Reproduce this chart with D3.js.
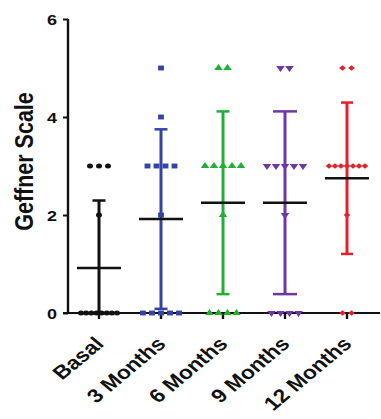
<!DOCTYPE html>
<html>
<head>
<meta charset="utf-8">
<script src="https://cdn.jsdelivr.net/npm/d3@7"></script>
<style>
  html, body { margin: 0; padding: 0; background: #ffffff; }
  svg { display: block; }
  text { font-family: "Liberation Sans", Arial, sans-serif; font-weight: bold; fill: #111; }
</style>
</head>
<body>
<svg id="chart" width="381" height="419"></svg>
<script>
// Geffner scale scores per patient at each visit
const categories = ["Basal", "3 Months", "6 Months", "9 Months", "12 Months"];
const basal    = [3, 3, 3, 2, 0, 0, 0, 0, 0, 0, 0, 0];
const months3  = [5, 4, 3, 3, 3, 3, 2, 0, 0, 0, 0, 0];
const months6  = [5, 5, 3, 3, 3, 3, 3, 2, 0, 0, 0, 0];
const months9  = [5, 5, 3, 3, 3, 3, 3, 2, 0, 0, 0, 0];
const months12 = [5, 5, 3, 3, 3, 3, 3, 3, 3, 2, 0, 0];
const yTicks = [0, 2, 4, 6];

const groups = [basal, months3, months6, months9, months12];
const colors = ["#111111", "#3343a8", "#22b034", "#6f36a6", "#e8202a"];
const shapes = [d3.symbolCircle, d3.symbolSquare, d3.symbolTriangle, d3.symbolTriangle, d3.symbolDiamond2];
const sizes  = [20, 24, 22, 22, 20];
const rotations = [0, 0, 0, 180, 0];
const capWidths = [13, 13, 13, 24, 12];

// the figure is drawn with a slightly wide aspect: text and symbols are widened by this factor
const stretch = 1.2;

const svg = d3.select("#chart");
const margin = { left: 68, top: 19, right: 3, bottom: 106 };
const W = 381, H = 419;

const x = d3.scaleBand().domain(categories).range([margin.left, W - margin.right]).padding(0);
const y = d3.scaleLinear().domain([0, 6]).range([H - margin.bottom, margin.top]);

// spread points sharing a value side by side around the column centre
function spread(values, step, maxSpan) {
  const counts = d3.rollup(values, v => v.length, d => d);
  const seen = new Map();
  return values.map(v => {
    const k = counts.get(v);
    const i = seen.get(v) || 0;
    seen.set(v, i + 1);
    const s = k > 1 ? Math.min(step, maxSpan / (k - 1)) : 0;
    return { value: v, dx: (i - (k - 1) / 2) * s };
  });
}

// axes
const yAxis = svg.append("g").attr("transform", `translate(${margin.left},0)`)
  .call(d3.axisLeft(y).tickValues(yTicks).tickFormat(d3.format("d")).tickSize(5));
yAxis.select(".domain").attr("stroke", "#111").attr("stroke-width", 2.4)
  .attr("d", `M0,${y(6)}V${y(0)}`);
yAxis.selectAll(".tick line").attr("stroke", "#111").attr("stroke-width", 2);
yAxis.selectAll(".tick text")
  .style("font-size", "15px")
  .attr("x", 0).attr("dy", "0.36em")
  .attr("transform", `translate(-11,0) scale(${stretch},1)`);

const xAxis = svg.append("g").attr("transform", `translate(0,${y(0)})`)
  .call(d3.axisBottom(x).tickSize(6).tickSizeOuter(0));
xAxis.select(".domain").attr("stroke", "#111").attr("stroke-width", 2)
  .attr("d", `M${margin.left - 5},0H${W - 1}`);
xAxis.selectAll(".tick line").attr("stroke", "#111").attr("stroke-width", 2.4);
xAxis.selectAll(".tick text")
  .style("font-size", "19px")
  .attr("text-anchor", "end")
  .attr("dy", null)
  .attr("y", 0)
  .attr("transform", `translate(6,32) scale(${stretch},1) rotate(-45)`);

// y axis title
svg.append("text")
  .attr("transform", `translate(33,${(88 + 235) / 2}) scale(${stretch},1) rotate(-90)`)
  .attr("text-anchor", "middle")
  .style("font-size", "21.5px")
  .text("Geffner Scale");

// columns: points, error bars, mean line
groups.forEach((vals, gi) => {
  const cat = categories[gi];
  const cx = x(cat) + x.bandwidth() / 2;
  const col = colors[gi];
  const g = svg.append("g");

  const pts = spread(vals, 9, 36);
  g.selectAll("path.pt").data(pts).join("path")
    .attr("class", "pt")
    .attr("d", d3.symbol().type(shapes[gi]).size(sizes[gi]))
    .attr("transform", d => `translate(${cx + d.dx},${y(d.value)}) scale(${stretch},1) rotate(${rotations[gi]})`)
    .attr("fill", col);

  const mean = d3.mean(vals);
  const sd = d3.deviation(vals);
  const hi = mean + sd;
  const lo = Math.max(0, mean - sd);

  g.append("line")
    .attr("x1", cx).attr("x2", cx)
    .attr("y1", y(hi)).attr("y2", y(lo))
    .attr("stroke", col).attr("stroke-width", 3);
  g.append("line")
    .attr("x1", cx - capWidths[gi] / 2).attr("x2", cx + capWidths[gi] / 2)
    .attr("y1", y(hi)).attr("y2", y(hi))
    .attr("stroke", col).attr("stroke-width", 2.5);
  if (mean - sd > 0) {
    g.append("line")
      .attr("x1", cx - capWidths[gi] / 2).attr("x2", cx + capWidths[gi] / 2)
      .attr("y1", y(lo)).attr("y2", y(lo))
      .attr("stroke", col).attr("stroke-width", 2.5);
  }
  g.append("line")
    .attr("x1", cx - 22).attr("x2", cx + 22)
    .attr("y1", y(mean)).attr("y2", y(mean))
    .attr("stroke", "#111").attr("stroke-width", 2.5);
});
</script>
</body>
</html>
